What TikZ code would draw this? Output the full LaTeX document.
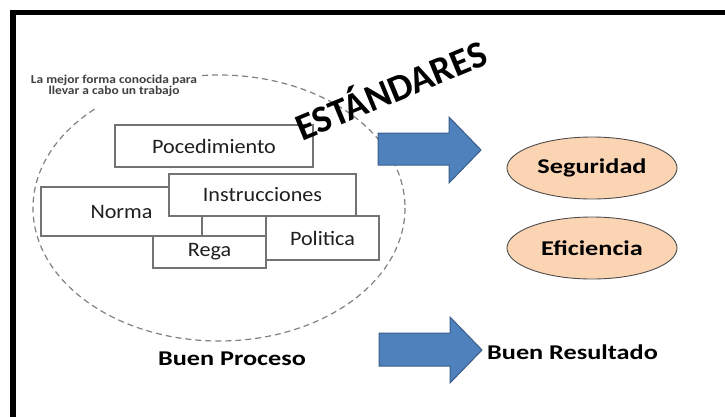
\documentclass[tikz,border=0pt]{standalone}
\usepackage{fontspec}
\setmainfont{Carlito}
\newfontfamily\boxfont[FakeStretch=1.08]{Carlito}
\newfontfamily\bigfont[FakeStretch=1.25]{Carlito}
\newfontfamily\notefont[FakeStretch=1.12]{Carlito}
\usepackage{xcolor}
\usetikzlibrary{calc,positioning,shapes.geometric}
\definecolor{peach}{HTML}{FBD4B4}
\definecolor{arrowblue}{HTML}{4F81BD}
\definecolor{arrowedge}{HTML}{385D8A}

\begin{document}
\begin{tikzpicture}[x=1pt,y=-1pt,
    boxnode/.style={draw=black!55,line width=1.2pt,fill=white,inner sep=0pt,
        font=\boxfont\fontsize{20.5}{24}\selectfont,text=black!88},
    goalnode/.style={ellipse,draw=black!70,line width=0.9pt,fill=peach,inner sep=0pt,
        minimum width=170pt,minimum height=62pt,font=\bigfont\bfseries\fontsize{21}{25}\selectfont},
    blockarrow/.style={fill=arrowblue,draw=arrowedge,line width=1pt,line join=miter},
    bigtext/.style={font=\bigfont\bfseries\fontsize{21}{25}\selectfont,inner sep=0pt}]
    \useasboundingbox (0,0) rectangle (725,416);
    \draw[line width=5.5pt] (13,420)--(13,12.5)--(730,12.5);
    \draw[dashed,dash pattern=on 6pt off 4pt,black!50,line width=1.2pt](219,208) ellipse [x radius=186,y radius=133];
    \fill[white] (22,63) rectangle (202,108);
    \node[align=center,inner sep=0pt,text=black!75,font=\notefont\bfseries\fontsize{12}{11}\selectfont] at (114,86)(nota){La mejor forma conocida para\\llevar a cabo un trabajo};
    \node[boxnode,minimum width=161pt,minimum height=49pt] at (121.5,211.5)(norma){Norma};
    \node[boxnode,minimum width=187pt,minimum height=42pt] at (262.5,195)(instr){Instrucciones};
    \node[boxnode,minimum width=113pt,minimum height=44pt] at (322.5,238)(politica){Politica};
    \node[boxnode,minimum width=113pt,minimum height=32pt] at (209.5,252)(rega){Rega};
    \node[boxnode,minimum width=198pt,minimum height=42pt] at (214,146)(proc){Pocedimiento};
    \node[rotate=22.4,anchor=base,inner sep=0pt,font=\bfseries\fontsize{38}{40}\selectfont] at (396,102.5)(estandares){ESTÁNDARES};
    \draw[blockarrow](378,133)--(449,133)--(449,117)--(481,150)--(449,183)--(449,165)--(378,165)--cycle;
    \draw[blockarrow](379,333)--(450,333)--(450,317)--(482,350)--(450,383)--(450,366)--(379,366)--cycle;
    \node[goalnode] at (592,168)(seguridad){Seguridad};
    \node[goalnode] at (592,248)(eficiencia){Eficiencia};
    \node[bigtext] at (232,359)(proceso){Buen Proceso};
    \node[bigtext] at (572.5,352)(resultado){Buen Resultado};
\end{tikzpicture}
\end{document}
